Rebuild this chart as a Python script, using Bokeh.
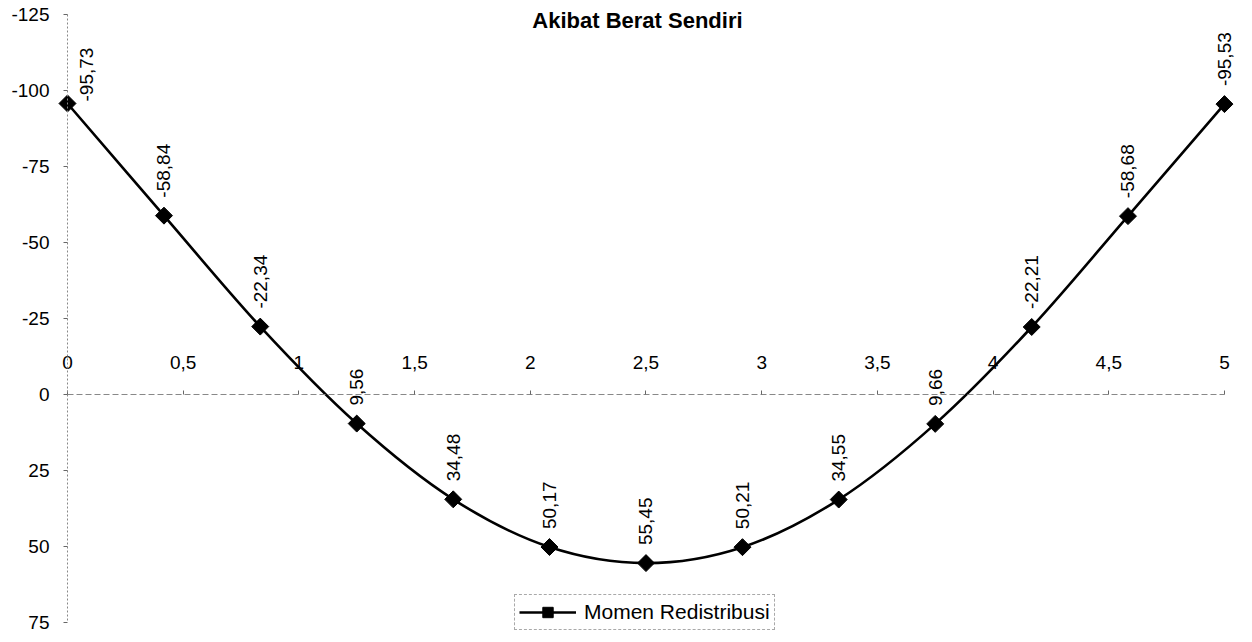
import numpy as np
from math import pi
from bokeh.plotting import figure
from bokeh.models import (Range1d, LinearAxis, FixedTicker, CustomJSTickFormatter,
                          Label, Legend, LegendItem, ColumnDataSource)
from bokeh.core.properties import value
from bokeh.embed import file_html
from bokeh.resources import INLINE

# ---- data ----
title_text = "Akibat Berat Sendiri"
series_name = "Momen Redistribusi"
x_pos = [0, 0.417, 0.833, 1.25, 1.667, 2.083, 2.5, 2.917, 3.333, 3.75, 4.167, 4.583, 5]
moment = [-95.73, -58.84, -22.34, 9.56, 34.48, 50.17, 55.45, 50.21, 34.55, 9.66, -22.21, -58.68, -95.53]
x_ticks = [0, 0.5, 1, 1.5, 2, 2.5, 3, 3.5, 4, 4.5, 5]
y_ticks = [-125, -100, -75, -50, -25, 0, 25, 50, 75]

FONT = "Liberation Sans"

labels = [f"{v:.2f}".replace(".", ",") for v in moment]
src = ColumnDataSource(dict(x=x_pos, y=moment, lab=labels))

p = figure(width=1236, height=636, output_backend="svg", toolbar_location=None,
           x_range=Range1d(-0.2895, 5.052), y_range=Range1d(79.6, -129.61),
           x_axis_location=None, y_axis_location=None,
           min_border_left=0, min_border_right=0, min_border_top=0, min_border_bottom=0)
p.outline_line_color = None
p.xgrid.visible = False
p.ygrid.visible = False
p.background_fill_color = "white"
p.border_fill_color = "white"

# y axis at x = 0
ya = LinearAxis(fixed_location=0, bounds=(y_ticks[0], y_ticks[-1]),
                ticker=FixedTicker(ticks=y_ticks),
                formatter=CustomJSTickFormatter(code="return tick.toString()"))
ya.minor_tick_line_color = None
ya.major_tick_in = 0
ya.major_tick_out = 4
ya.major_tick_line_color = "#666666"
ya.axis_line_color = "#888888"
ya.axis_line_dash = "2 2"
ya.major_label_standoff = 14
ya.major_label_text_font = FONT
ya.major_label_text_font_size = "19px"
ya.major_label_text_color = "black"
p.add_layout(ya, "left")

# x axis crossing at y = 0, labels above
xa = LinearAxis(fixed_location=0, bounds=(x_ticks[0], x_ticks[-1]),
                ticker=FixedTicker(ticks=x_ticks),
                formatter=CustomJSTickFormatter(code="return tick.toString().replace('.', ',')"))
xa.minor_tick_line_color = None
xa.major_tick_in = 0
xa.major_tick_out = 4
xa.major_tick_line_color = "#666666"
xa.axis_line_color = "#888888"
xa.axis_line_dash = "6 3"
xa.major_label_standoff = 22
xa.major_label_text_font = FONT
xa.major_label_text_font_size = "19px"
xa.major_label_text_color = "black"
p.add_layout(xa, "above")

# smooth curve (cubic Bezier segments through the data points)
xa_ = np.array(x_pos, dtype=float)
ya_ = np.array(moment, dtype=float)
xp = np.concatenate([[xa_[0]], xa_, [xa_[-1]]])
yp = np.concatenate([[ya_[0]], ya_, [ya_[-1]]])
n = len(xa_)
seg = dict(
    x0=xa_[:-1], y0=ya_[:-1], x1=xa_[1:], y1=ya_[1:],
    cx0=xa_[:-1] + (xp[2:n + 1] - xp[0:n - 1]) / 6.0,
    cy0=ya_[:-1] + (yp[2:n + 1] - yp[0:n - 1]) / 6.0,
    cx1=xa_[1:] - (xp[3:n + 2] - xp[1:n]) / 6.0,
    cy1=ya_[1:] - (yp[3:n + 2] - yp[1:n]) / 6.0,
)
curve = p.bezier(x0="x0", y0="y0", x1="x1", y1="y1", cx0="cx0", cy0="cy0",
                 cx1="cx1", cy1="cy1", source=ColumnDataSource(seg),
                 line_color="black", line_width=2.6)
marks = p.scatter("x", "y", source=src, marker="square", angle=pi / 4, size=12,
                  fill_color="black", line_color="black")

# data labels (rotated, above points)
first = ColumnDataSource(dict(x=x_pos[:1], y=moment[:1], lab=labels[:1]))
rest = ColumnDataSource(dict(x=x_pos[1:], y=moment[1:], lab=labels[1:]))
for s, xo, yo in ((first, 19, -2), (rest, 0, -18)):
    p.text("x", "y", text="lab", source=s, angle=pi / 2, text_align="left",
           text_baseline="middle", x_offset=xo, y_offset=yo,
           text_font=value(FONT), text_font_size="19px", text_color="black")

# title
p.add_layout(Label(x=2.463, y=-123, text=title_text, text_align="center",
                   text_baseline="middle", text_font=FONT, text_font_size="22px",
                   text_font_style="bold", text_color="black"))

leg = Legend(items=[LegendItem(label=series_name, renderers=[curve, marks])],
             location=(514, 6), orientation="vertical",
             padding=4, margin=0, spacing=0, glyph_width=57, glyph_height=26,
             label_standoff=8, label_text_font=FONT, label_text_font_size="21px",
             label_text_color="black", border_line_color="#555555",
             border_line_dash="4 2", border_line_width=1,
             background_fill_color="white", background_fill_alpha=1)
p.add_layout(leg, "center")

open("out.html", "w").write(file_html(p, INLINE))
